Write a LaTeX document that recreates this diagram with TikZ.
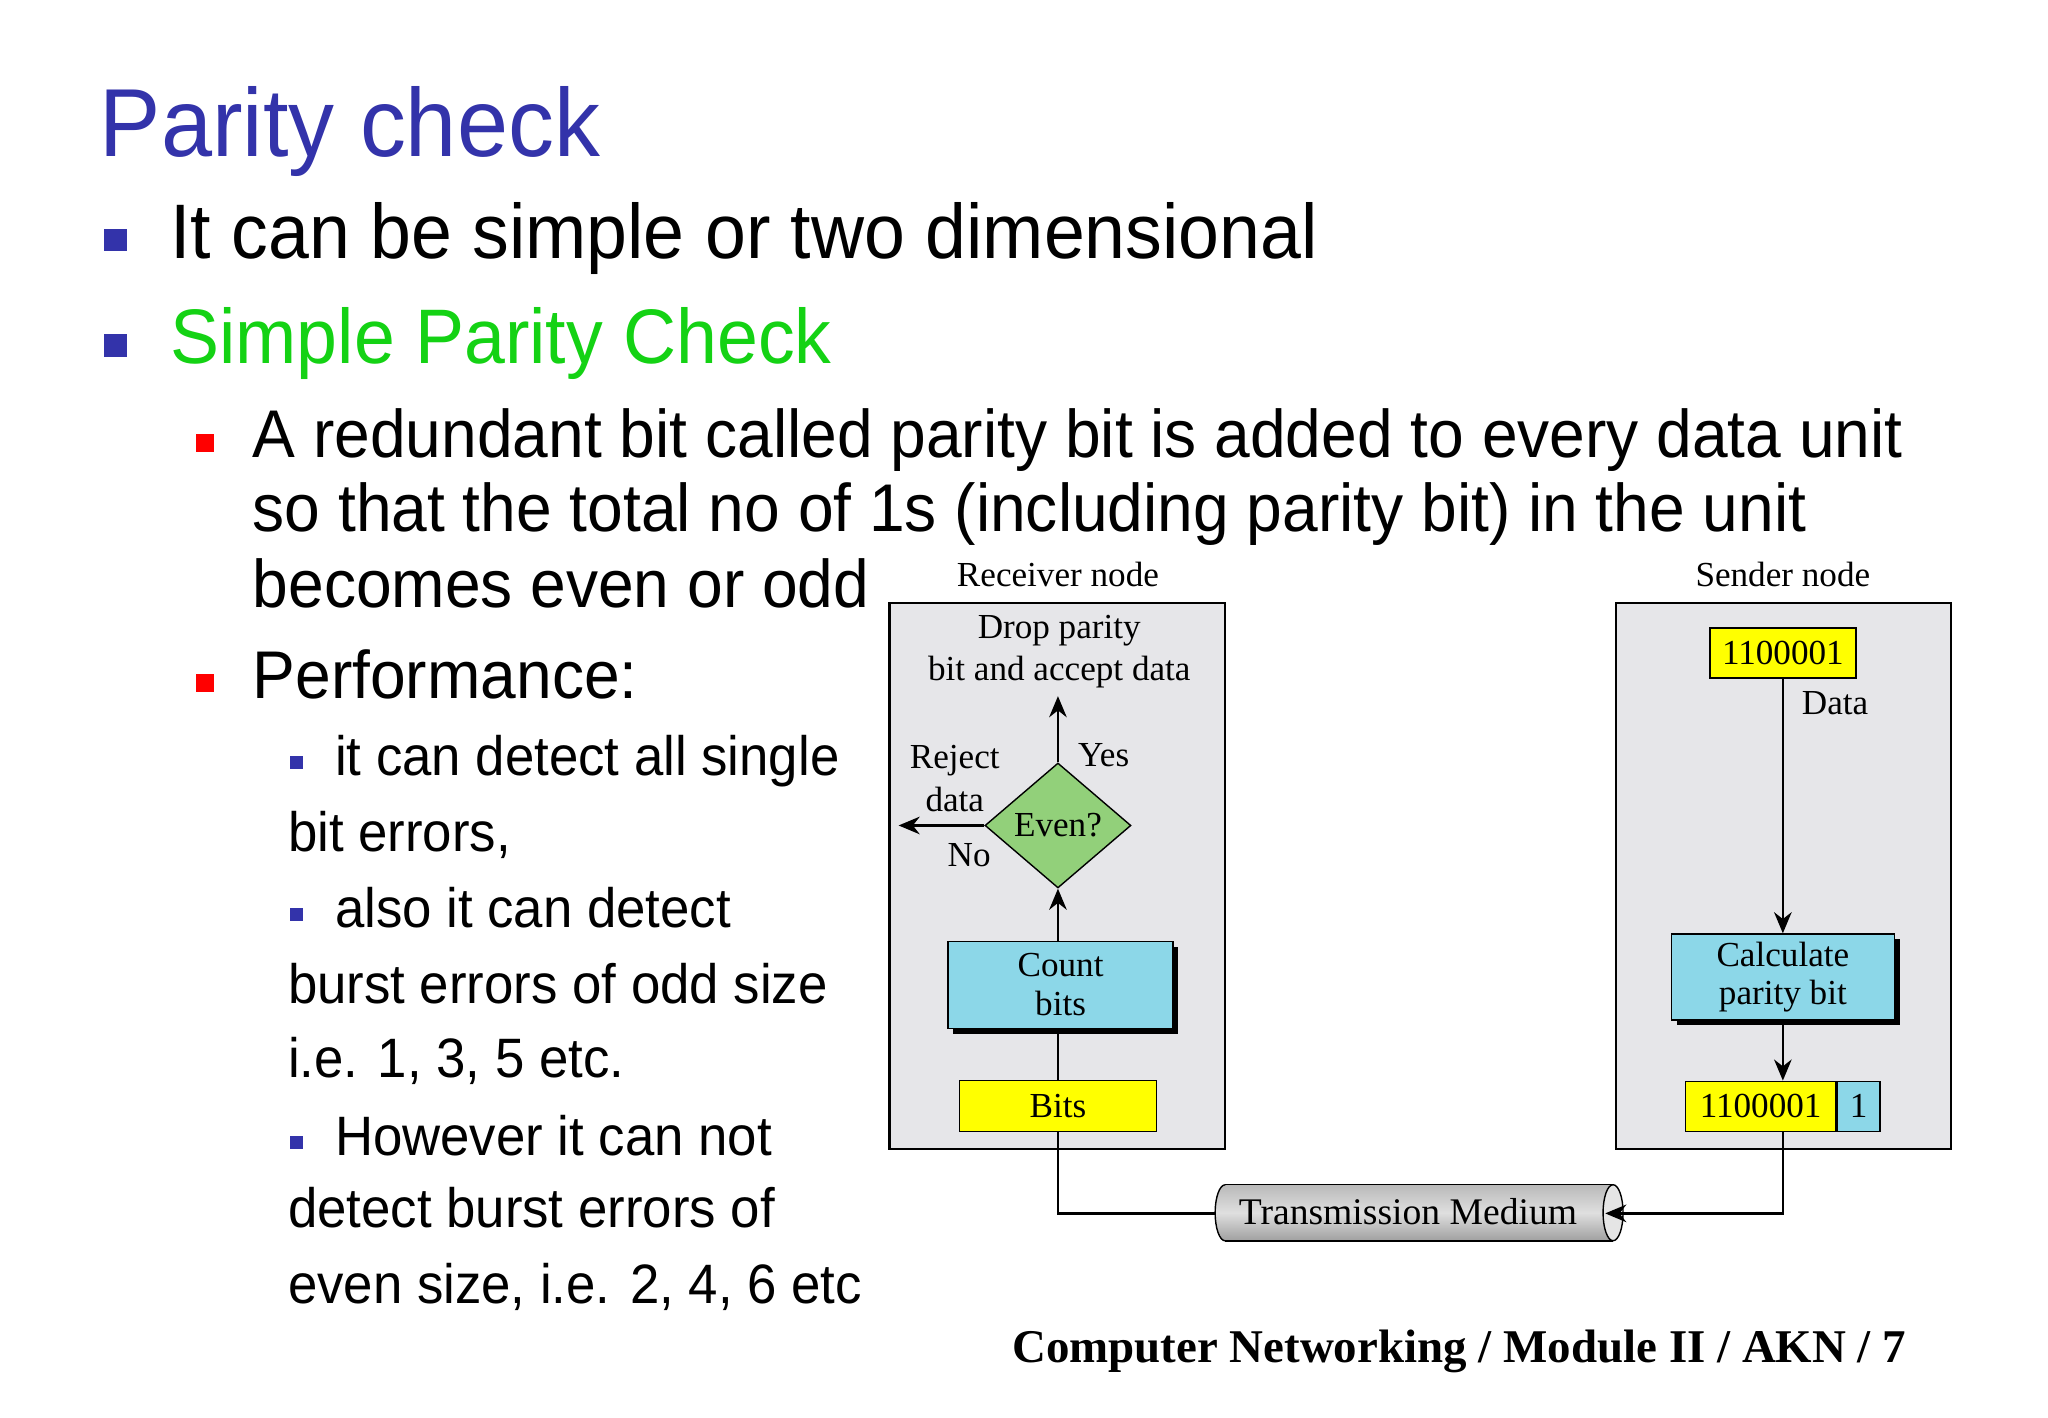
\documentclass[tikz,border=0pt]{standalone}
\usepackage{fontspec}
\setmainfont{Liberation Serif}
\newfontfamily\slidefont[FakeStretch=0.95]{Liberation Sans}
\usetikzlibrary{shapes.geometric,arrows.meta,shadows}
\definecolor{ttl}{RGB}{51,51,170}
\definecolor{grn}{RGB}{20,210,20}
\definecolor{boxg}{RGB}{230,230,233}
\definecolor{cy}{RGB}{140,215,232}
\definecolor{dg}{RGB}{146,208,122}
\definecolor{yl}{RGB}{255,255,0}
\tikzset{
 tx/.style={anchor=base west,inner sep=0pt},
 dt/.style={font=\fontsize{10}{11}\selectfont,align=center,inner sep=0pt},
 pbox/.style={draw,fill=boxg,line width=0.6pt},
 sh/.style={draw,fill=cy,align=center,font=\fontsize{10}{11}\selectfont,inner sep=0pt,
   general shadow={fill=black,shadow xshift=1.5pt,shadow yshift=-1.5pt}},
 yb/.style={draw,fill=yl,font=\fontsize{10}{11}\selectfont,inner sep=0pt},
 ar/.style={-{Stealth[length=6pt,width=5pt]},line width=0.7pt},
 ln/.style={line width=0.7pt}
}
\begin{document}
\begin{tikzpicture}[x=0.01306cm,y=-0.01306cm]
\useasboundingbox (0,0) rectangle (1568,1085);
\fill[white] (0,0) rectangle (1568,1085);
% text
\node[tx,text=ttl,font=\slidefont\fontsize{27.5}{30}\selectfont] (t) at (76,120) {Parity check};
\fill[ttl] (80,175) rectangle (97,192);
\node[tx,font=\slidefont\fontsize{22}{26}\selectfont] (b1) at (130,198) {It can be simple or two dimensional};
\fill[ttl] (80,256) rectangle (97,273);
\node[tx,text=grn,font=\slidefont\fontsize{22}{26}\selectfont] (b2) at (130,278) {Simple Parity Check};
\fill[red] (150,332) rectangle (164,346);
\node[tx,font=\slidefont\fontsize{19.2}{22}\selectfont] (c1) at (193,350) {A redundant bit called parity bit is added to every data unit};
\node[tx,font=\slidefont\fontsize{19.2}{22}\selectfont] (c2) at (193,407) {so that the total no of 1s (including parity bit) in the unit};
\node[tx,font=\slidefont\fontsize{19.2}{22}\selectfont] (c3) at (193,465) {becomes even or odd};
\fill[red] (150,516) rectangle (164,530);
\node[tx,font=\slidefont\fontsize{19.2}{22}\selectfont] (c4) at (193,535) {Performance:};
\foreach \y in {579,695,870} \fill[ttl] (222,\y) rectangle (232,\y+10);
\begin{scope}[every node/.style={tx,font=\slidefont\fontsize{15.8}{20}\selectfont}]
\node (d1) at (256,594) {it can detect all single};
\node (d2) at (220,652) {bit errors,};
\node (d3) at (256,710) {also it can detect};
\node (d4) at (220,768) {burst errors of odd size};
\node (d5) at (220,825) {i.e. 1, 3, 5 etc.};
\node (d6) at (256,885) {However it can not};
\node (d7) at (220,940) {detect burst errors of};
\node (d8) at (220,998) {even size, i.e. 2, 4, 6 etc};
\end{scope}
% diagram
\draw[pbox] (681,462) rectangle (938,880);
\draw[pbox] (1237,462) rectangle (1494,880);
\node[dt] (rn) at (810,440) {Receiver node};
\node[dt] (sn) at (1365,440) {Sender node};
\node[dt] (drop) at (811,499) {Drop parity\\[1pt]bit and accept data};
\node[diamond,draw,fill=dg,inner sep=0pt,
  minimum width=1.46cm,minimum height=1.25cm,dt] (dia) at (810,632) {Even?};
\coordinate (top) at (810,533);
\coordinate (lft) at (688,632);
\draw[ar] (dia.north) -- (top);
\draw[ar] (dia.west) -- (lft);
\node[dt] (yes) at (845,578) {Yes};
\node[dt] (rej) at (731,596) {Reject\\[1pt]data};
\node[dt] (no) at (742,655) {No};
\node[sh,minimum width=2.25cm,minimum height=0.87cm] (cnt) at (812,754) {Count\\bits};
\draw[ar] (cnt.north -| dia.south) -- (dia.south);
\node[yb,minimum width=1.97cm,minimum height=0.51cm] (bits) at (810,847) {Bits};
\draw[ln] (bits.north) -- (bits.north |- cnt.south);
% cylinder
\shade[top color=gray!55,bottom color=gray!75,middle color=gray!25] (938,907) rectangle (1235,950);
\shade[top color=gray!55,bottom color=gray!75,middle color=gray!25] (938,928.5) ellipse [x radius=0.1cm,y radius=0.28cm];
\draw (938,907) -- (1235,907) (938,950) -- (1235,950);
\draw (938,950) arc[start angle=270,end angle=90,x radius=0.1cm,y radius=0.28cm];
\draw[fill=gray!20] (1235,928.5) ellipse [x radius=0.1cm,y radius=0.28cm];
\node[dt,font=\fontsize{10.7}{12}\selectfont] (tm) at (1078,928) {Transmission Medium};
\coordinate (cl) at (931,929);
\coordinate (cr) at (1229,929);
\draw[ln] (bits.south) |- (cl);
% sender
\node[yb,minimum width=1.46cm,minimum height=0.5cm] (d0) at (1365,500) {1100001};
\node[dt] (data) at (1405,538) {Data};
\node[sh,minimum width=2.23cm,minimum height=0.86cm] (calc) at (1365,748) {Calculate\\parity bit};
\draw[ar] (d0.south) -- (calc.north);
\node[yb,minimum width=1.5cm,minimum height=0.5cm] (d1b) at (1348,847) {1100001};
\node[draw,fill=cy,minimum width=0.43cm,minimum height=0.5cm,inner sep=0pt,dt,anchor=west] (pb) at (d1b.east) {1};
\draw[ar] (calc.south) -- (d1b.north -| calc.south);
\draw[ar] (d1b.south -| calc.south) |- (cr);
\node[anchor=base east,inner sep=0pt,font=\bfseries\fontsize{13.35}{15}\selectfont] (ft) at (1460,1043) {Computer Networking / Module II / AKN / 7};
\end{tikzpicture}
\end{document}
